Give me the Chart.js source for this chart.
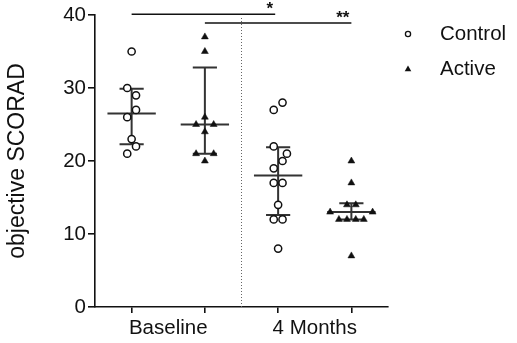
<!DOCTYPE html>
<html>
<head>
<meta charset="utf-8">
<script src="https://cdn.jsdelivr.net/npm/chart.js@4.4.1/dist/chart.umd.min.js"></script>
<style>
  body { margin: 0; background: #fff; }
  #wrap { width: 517px; height: 343px; }
</style>
</head>
<body>
<div id="wrap"><canvas id="chart" width="517" height="343"></canvas></div>
<script>
const categories = ['Baseline', '4 Months'];
const seriesNames = ['Control', 'Active'];

// individual scores
const controlBaseline = [35, 30, 29, 27, 26, 23, 22, 21];
const activeBaseline = [37, 35, 26, 25, 25, 24, 21, 21, 20];
const controlMonths = [28, 27, 22, 21, 20, 19, 17, 17, 14, 12, 12, 8];
const activeMonths = [20, 17, 14, 14, 13, 13, 12, 12, 12, 12, 7];

// sideways spread of the dots so equal scores don't sit on top of each other
const controlBaselineSpread = [0, -0.06, 0.06, 0.06, -0.06, 0, 0.06, -0.06];
const activeBaselineSpread = [0, 0, 0, -0.12, 0.12, 0, -0.12, 0.12, 0];
const controlMonthsSpread = [0.06, -0.06, -0.06, 0.12, 0.06, -0.06, -0.06, 0.06, 0, -0.06, 0.06, 0];
const activeMonthsSpread = [0, 0, -0.06, 0.06, -0.29, 0.29, -0.17, -0.06, 0.06, 0.17, 0];

// median + interquartile range, order: control base, active base, control 4m, active 4m
const medians = [26.5, 25, 18, 13];
const lowerQuartiles = [22.3, 21, 12.6, 12];
const upperQuartiles = [29.9, 32.8, 21.9, 14.2];

const yTicks = [0, 10, 20, 30, 40];

// significance brackets
const sigFrom = [0.5, 1.5];
const sigTo = [2.46, 3.5];
const sigLevel = [40.1, 38.9];
const sigText = ['*', '**'];

const FONT = "'Liberation Sans', Arial, Helvetica, sans-serif";
Chart.defaults.font.family = FONT;
Chart.defaults.color = '#111';

// group position on the x axis: category block of 2, control left, active right
const groupX = (cat, series) => cat * 2 + series + 0.5;

const toPoints = (values, spread, cat, series) =>
    values.map((v, i) => ({ x: groupX(cat, series) + spread[i], y: v }));

let summaryLines = [];
[[0, 0], [0, 1], [1, 0], [1, 1]].forEach(([cat, series], g) => {
    const c = groupX(cat, series);
    const gap = { x: c, y: null };
    summaryLines.push(
        { x: c - 0.33, y: medians[g] }, { x: c + 0.33, y: medians[g] }, gap,
        { x: c - 0.165, y: upperQuartiles[g] }, { x: c + 0.165, y: upperQuartiles[g] }, gap,
        { x: c - 0.165, y: lowerQuartiles[g] }, { x: c + 0.165, y: lowerQuartiles[g] }, gap,
        { x: c, y: lowerQuartiles[g] }, { x: c, y: upperQuartiles[g] }, gap
    );
});

const sigPlugin = {
    id: 'sigBrackets',
    afterDraw(chart) {
        const ctx = chart.ctx;
        const xs = chart.scales.x, ys = chart.scales.y;
        ctx.save();
        ctx.strokeStyle = '#111';
        ctx.lineWidth = 1.6;
        ctx.fillStyle = '#111';
        ctx.font = 'bold 17px ' + FONT;
        ctx.textAlign = 'right';
        ctx.textBaseline = 'middle';
        for (let i = 0; i < sigText.length; i++) {
            const y = ys.getPixelForValue(sigLevel[i]);
            const x1 = xs.getPixelForValue(sigFrom[i]);
            const x2 = xs.getPixelForValue(sigTo[i]);
            ctx.beginPath();
            ctx.moveTo(x1, y);
            ctx.lineTo(x2, y);
            ctx.stroke();
            ctx.fillText(sigText[i], x2 - 2, y - 5);
        }
        ctx.restore();
    }
};

const legendPlugin = {
    id: 'sideLegend',
    afterDraw(chart) {
        const ctx = chart.ctx;
        const x = chart.chartArea.right + 20;
        const rows = [34, 69];
        ctx.save();
        ctx.font = '20.5px ' + FONT;
        ctx.textBaseline = 'middle';
        ctx.fillStyle = '#111';
        // circle
        ctx.beginPath();
        ctx.lineWidth = 1.3;
        ctx.strokeStyle = '#111';
        ctx.arc(x, rows[0], 2.6, 0, Math.PI * 2);
        ctx.stroke();
        // triangle
        ctx.beginPath();
        ctx.moveTo(x, rows[1] - 3.5);
        ctx.lineTo(x + 3.3, rows[1] + 2.3);
        ctx.lineTo(x - 3.3, rows[1] + 2.3);
        ctx.closePath();
        ctx.fill();
        ctx.fillText(seriesNames[0], x + 32, rows[0]);
        ctx.fillText(seriesNames[1], x + 32, rows[1]);
        ctx.restore();
    }
};

new Chart(document.getElementById('chart'), {
    type: 'scatter',
    data: {
        datasets: [
            {
                label: seriesNames[0],
                data: toPoints(controlBaseline, controlBaselineSpread, 0, 0)
                    .concat(toPoints(controlMonths, controlMonthsSpread, 1, 0)),
                pointStyle: 'circle',
                pointRadius: 3.6,
                pointBorderWidth: 1.5,
                pointBackgroundColor: '#fff',
                pointBorderColor: '#111',
                order: 0
            },
            {
                label: seriesNames[1],
                data: toPoints(activeBaseline, activeBaselineSpread, 0, 1)
                    .concat(toPoints(activeMonths, activeMonthsSpread, 1, 1)),
                pointStyle: 'triangle',
                pointRadius: 4,
                pointBorderWidth: 0.5,
                pointBackgroundColor: '#111',
                pointBorderColor: '#111',
                order: 0
            },
            {
                label: 'median/IQR',
                data: summaryLines,
                showLine: true,
                spanGaps: false,
                borderColor: '#333',
                borderWidth: 2,
                pointRadius: 0,
                order: 1
            },
            {
                label: 'divider',
                data: [{ x: 2, y: 0 }, { x: 2, y: 39.7 }],
                showLine: true,
                borderColor: '#666',
                borderWidth: 1,
                borderDash: [1, 2],
                pointRadius: 0,
                order: 2
            }
        ]
    },
    options: {
        responsive: false,
        animation: false,
        layout: { padding: { top: 15, right: 129, left: 0, bottom: 0 } },
        plugins: {
            legend: { display: false },
            tooltip: { enabled: false }
        },
        scales: {
            x: {
                type: 'linear',
                min: 0,
                max: 4,
                afterBuildTicks: (scale) => {
                    scale.ticks = [0.5, 1, 1.5, 2.5, 3, 3.5].map(v => ({ value: v }));
                },
                afterFit: (scale) => { scale.height = 36; },
                ticks: {
                    autoSkip: false,
                    maxRotation: 0,
                    padding: 3,
                    font: { size: 20.5 },
                    color: '#111',
                    callback: (v) => {
                        const i = categories.findIndex((c, k) => 2 * k + 1 === v);
                        return i >= 0 ? categories[i] : '';
                    }
                },
                grid: {
                    drawOnChartArea: false,
                    tickLength: 6,
                    lineWidth: 1.6,
                    color: (ctx) => (ctx.tick && ctx.tick.value % 1 === 0.5) ? '#111' : 'rgba(0,0,0,0)'
                },
                border: { display: true, color: '#111', width: 1.6 }
            },
            y: {
                min: 0,
                max: 40,
                afterBuildTicks: (scale) => {
                    scale.ticks = yTicks.map(v => ({ value: v }));
                },
                afterFit: (scale) => { scale.width = 95; },
                ticks: {
                    padding: 2,
                    font: { size: 20.5 },
                    color: '#111'
                },
                grid: {
                    drawOnChartArea: false,
                    tickLength: 7,
                    lineWidth: 1.6,
                    color: '#111'
                },
                border: { display: true, color: '#111', width: 1.6 },
                title: {
                    display: true,
                    text: 'objective SCORAD',
                    font: { size: 23 },
                    color: '#111',
                    padding: { top: 4, bottom: 4 }
                }
            }
        }
    },
    plugins: [sigPlugin, legendPlugin]
});
</script>
</body>
</html>
